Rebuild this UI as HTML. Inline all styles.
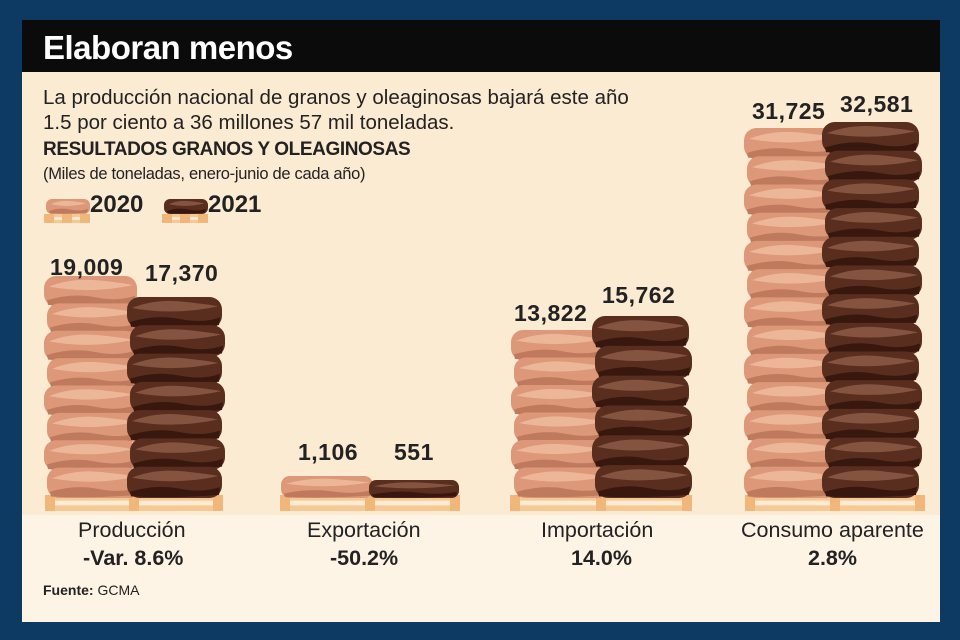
<!DOCTYPE html>
<html><head><meta charset="utf-8"><style>
body{margin:0;width:960px;height:640px;background:#0d3a62;overflow:hidden;font-family:"Liberation Sans",sans-serif}
#p{position:absolute;left:22px;top:20px;width:918px;height:602px;background:#fcebd3}
#low{position:absolute;left:22px;top:515px;width:918px;height:107px;background:#fdf4e6}
#t{position:absolute;left:22px;top:20px;width:918px;height:52px;background:#0b0b0b;color:#fff;font-weight:bold;font-size:33px;line-height:56px;padding-left:21px;box-sizing:border-box;letter-spacing:-0.5px}
.x{position:absolute;color:#222;white-space:nowrap}
.v{font-size:23px;font-weight:bold;letter-spacing:0.5px}
.c{font-size:21.5px}
.q{font-size:21.5px;font-weight:bold}
svg{position:absolute;left:0;top:0}
</style></head><body>
<div id="p"></div><div id="low"></div>
<div id="t">Elaboran menos</div>
<div class="x" style="left:43px;top:85px;font-size:20.5px;line-height:25px">La producción nacional de granos y oleaginosas bajará este año<br>1.5 por ciento a 36 millones 57 mil toneladas.</div>
<div class="x" style="left:43px;top:139px;font-size:19px;font-weight:bold;letter-spacing:-0.4px">RESULTADOS GRANOS Y OLEAGINOSAS</div>
<div class="x" style="left:43px;top:165px;font-size:16.5px;letter-spacing:-0.3px">(Miles de toneladas, enero-junio de cada año)</div>
<div class="x" style="left:90px;top:191px;font-size:24px;font-weight:bold">2020</div>
<div class="x" style="left:208px;top:191px;font-size:24px;font-weight:bold">2021</div>
<svg id="s" width="960" height="640"></svg>
<div class="x v" style="left:50px;top:254px">19,009</div>
<div class="x v" style="left:145px;top:260px">17,370</div>
<div class="x v" style="left:298px;top:439px">1,106</div>
<div class="x v" style="left:394px;top:439px">551</div>
<div class="x v" style="left:514px;top:300px">13,822</div>
<div class="x v" style="left:602px;top:282px">15,762</div>
<div class="x v" style="left:752px;top:98px">31,725</div>
<div class="x v" style="left:840px;top:91px">32,581</div>
<div class="x c" style="left:78px;top:518px">Producción</div>
<div class="x q" style="left:83px;top:546px">-Var. 8.6%</div>
<div class="x c" style="left:307px;top:518px">Exportación</div>
<div class="x q" style="left:330px;top:546px">-50.2%</div>
<div class="x c" style="left:541px;top:518px">Importación</div>
<div class="x q" style="left:571px;top:546px">14.0%</div>
<div class="x c" style="left:741px;top:518px">Consumo aparente</div>
<div class="x q" style="left:808px;top:546px">2.8%</div>
<div class="x" style="left:43px;top:582px;font-size:14px"><b>Fuente:</b> GCMA</div>
<script>
var s=document.getElementById('s'),h='';
var L=['#dc9878','#ecb698','#bf7a5d'],D=['#5a2e1e','#845440','#38180e'];
function sack(x,y,w,hh,c){
 var r=hh*0.4;
 h+='<rect x="'+x+'" y="'+y+'" width="'+w+'" height="'+hh+'" rx="'+r+'" fill="'+c[0]+'"/>';
 h+='<path d="M'+(x+5)+','+(y+hh*0.35)+' Q'+(x+w*0.3)+','+(y+hh*0.05)+' '+(x+w*0.6)+','+(y+hh*0.15)+' T'+(x+w-4)+','+(y+hh*0.3)+' Q'+(x+w*0.5)+','+(y+hh*0.6)+' '+(x+5)+','+(y+hh*0.35)+' Z" fill="'+c[1]+'"/>';
 h+='<path d="M'+(x+3)+','+(y+hh*0.8)+' Q'+(x+w*0.3)+','+(y+hh*0.55)+' '+(x+w*0.55)+','+(y+hh*0.7)+' T'+(x+w-2)+','+(y+hh*0.65)+' L'+(x+w-3)+','+(y+hh*0.9)+' Q'+(x+w/2)+','+(y+hh*1.02)+' '+(x+4)+','+(y+hh*0.95)+' Z" fill="'+c[2]+'"/>';
}
function stack(x,w,top,n,c){var sh=(495-top)/n;for(var i=0;i<n;i++)sack(x+(i%2?2:-1),top+i*sh,w,sh+3,c);}
function pallet(x,w,y,hh){
 h+='<rect x="'+x+'" y="'+y+'" width="'+w+'" height="'+hh+'" fill="#f6c893"/>';
 h+='<rect x="'+(x+8)+'" y="'+(y+hh*0.35)+'" width="'+(w-16)+'" height="'+(hh*0.3)+'" fill="#fcebd3"/>';
 [0,0.5,1].forEach(function(f){h+='<rect x="'+(x+f*(w-10))+'" y="'+y+'" width="10" height="'+hh+'" fill="#f1b77a"/>';});
}
pallet(45,178,495,16);pallet(280,180,495,16);pallet(510,182,495,16);pallet(745,180,495,16);
stack(45,93,276,8,L);stack(128,95,297,7,D);
stack(282,92,476,1,L);stack(370,90,480,1,D);
stack(512,95,330,6,L);stack(593,97,316,6,D);
stack(745,95,128,13,L);stack(823,97,122,13,D);
pallet(44,46,214,9);sack(46,199,44,15,L);
pallet(162,46,214,9);sack(164,199,44,15,D);
s.innerHTML=h;
</script>
</body></html>
